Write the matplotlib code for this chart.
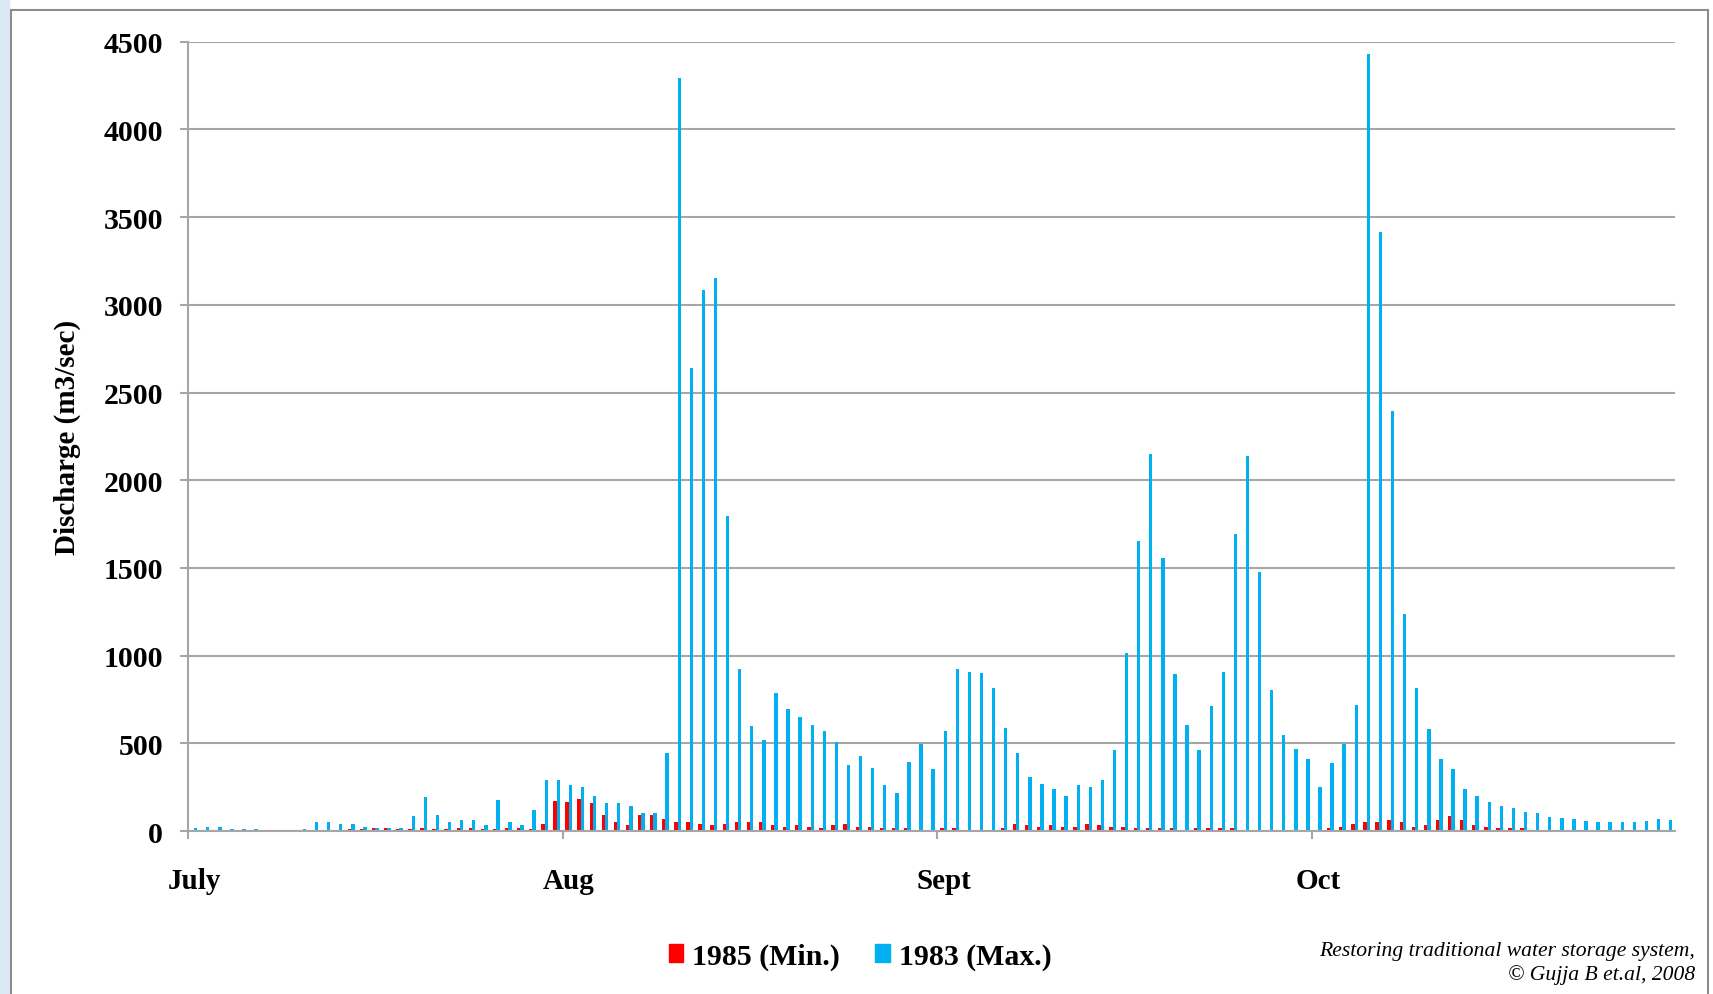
import numpy as np
import matplotlib
matplotlib.use("Agg")
import matplotlib.pyplot as plt
from matplotlib.patches import Patch, Rectangle

plt.rcParams["font.family"] = ["Liberation Serif", "DejaVu Serif"]

# daily discharge, 1 July onwards (123 days); the source chart puts "Oct" one day late
months = ["July", "Aug", "Sept", "Oct"]
month_days = [31, 31, 31, 30]

max_1983 = [
    20, 25, 25, 12, 10, 12, 0, 0, 0, 12, 52, 52, 42, 42, 25, 19, 19, 19, 84, 194,
    92, 52, 61, 61, 33, 176, 52, 33, 119, 291, 291,
    261, 251, 201, 161, 161, 144, 102, 102, 445, 4295, 2640, 3082, 3156, 1799, 923,
    596, 521, 787, 697, 648, 605, 569, 510, 377, 429, 360, 261, 218, 393, 496, 351,
    569, 922, 908, 899, 814, 588, 445, 310, 268, 241, 201, 261, 251, 291, 460, 1015,
    1656, 2148, 1559, 895, 604, 460, 713, 904, 1692, 2141, 1475, 803, 546, 469,
    409, 251, 387, 498, 720, 4432, 3413, 2397, 1240, 814, 579, 410, 351, 240, 201,
    167, 143, 132, 109, 102, 82, 75, 69, 59, 52, 52, 52, 52, 59, 69, 61,
]
min_1985 = [
    0, 0, 0, 0, 0, 0, 0, 0, 0, 0, 0, 0, 0, 12, 12, 19, 19, 12, 12, 19,
    12, 12, 15, 17, 10, 10, 17, 17, 10, 42, 170,
    163, 184, 161, 94, 52, 34, 94, 94, 67, 52, 52, 42, 33, 42, 52, 52, 52, 33, 23,
    34, 25, 17, 33, 42, 25, 25, 17, 17, 17, 8, 8,
    17, 17, 8, 8, 8, 15, 42, 34, 24, 33, 23, 23, 42, 33, 23, 23, 15, 15, 15, 15,
    8, 15, 15, 15, 15, 8, 8, 8, 8, 8,
    8, 8, 15, 25, 42, 52, 52, 61, 52, 23, 33, 61, 84, 61, 33, 23, 15, 15, 17, 8,
    8, 8, 8, 8, 8, 8, 8, 8, 8, 8, 8,
]

RED = "#FF0000"
BLUE = "#00B0F0"
GRID = "#A6A6A6"

x = np.arange(len(max_1983))
starts = np.concatenate([[0], np.cumsum(month_days)[:-1]])

fig = plt.figure(figsize=(17.13, 9.95), dpi=100)
ax = fig.add_axes([0.1097, 0.1638, 0.8681, 0.7932])

w = 0.28
ax.bar(x - 0.14, min_1985, width=w, color=RED, linewidth=0)
ax.bar(x + 0.14, max_1983, width=w, color=BLUE, linewidth=0)

ax.set_xlim(-0.5, len(x) - 0.5)
ax.set_ylim(0, 4500)
ax.set_yticks(np.arange(0, 4501, 500))
ax.yaxis.grid(True, color=GRID, linewidth=1.5)
ax.set_axisbelow(True)

for s in ["top", "right"]:
    ax.spines[s].set_visible(False)
for s in ["left", "bottom"]:
    ax.spines[s].set_color(GRID)
    ax.spines[s].set_linewidth(1.5)

# month labels centred on first day, tick marks on the boundaries
ax.set_xticks(starts)
ax.set_xticklabels(months, fontsize=21, fontweight="bold")
ax.set_xticks(starts - 0.5, minor=True)
ax.tick_params(axis="x", which="major", length=0, pad=26)
ax.tick_params(axis="x", which="minor", length=6, color=GRID, width=1.5)
ax.tick_params(axis="y", length=6, color=GRID, width=1.5, pad=12)
for lab in ax.get_yticklabels():
    lab.set_fontsize(21.5)
    lab.set_fontweight("bold")

ax.set_ylabel("Discharge (m3/sec)", fontsize=21, fontweight="bold")
ax.yaxis.set_label_coords(-0.0716, 0.5)

handles = [Patch(color=RED, label="1985 (Min.)"), Patch(color=BLUE, label="1983 (Max.)")]
fig.legend(handles=handles, loc="center", bbox_to_anchor=(0.502, 0.038), ncol=2,
           frameon=False, handlelength=0.5, handleheight=0.6, handletextpad=0.3,
           columnspacing=1.15, prop={"size": 21.5, "weight": "bold"})

fig.text(0.9895, 0.0315, "Restoring traditional water storage system,\n\u00a9 Gujja B et.al, 2008",
         ha="right", va="center", fontsize=15.6, style="italic", linespacing=1.25)

# chart frame and slide background strip
fig.patches.append(Rectangle((0, 0), 9 / 1713, 1, transform=fig.transFigure,
                             color="#DCE8F5", zorder=0))
fig.patches.append(Rectangle((10.7 / 1713, -0.05), (1708 - 10.7) / 1713, 1.05 - 10.7 / 995,
                             transform=fig.transFigure, fill=False,
                             edgecolor="#8C8C8C", linewidth=1.5, clip_on=False))

fig.savefig("out.png", dpi=100)
